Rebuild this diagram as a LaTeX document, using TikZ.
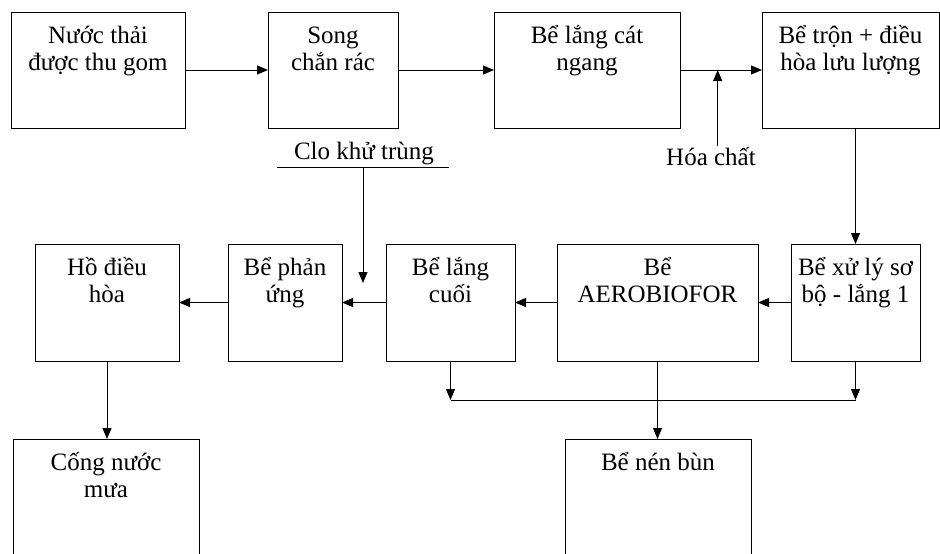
\documentclass[tikz,border=0pt]{standalone}
\usepackage{fontspec}
\setmainfont{Liberation Serif}
\usetikzlibrary{arrows.meta,positioning,calc}

\begin{document}
\begin{tikzpicture}[x=1pt, y=1pt,
  box/.style={draw, line width=1pt, inner sep=0pt, outer sep=0pt, anchor=north west},
  txt/.style={align=center, anchor=base, inner sep=0pt, font=\fontsize{25}{27}\selectfont},
  two/.style={yshift=-27pt},
  arrow/.style={-{Triangle[length=11pt,width=9pt]}, line width=1pt},
  wire/.style={line width=1pt}
]
\useasboundingbox (0,0) rectangle (940,-554);
% 上排:四个处理框,左到右
\node[box, minimum width=174pt, minimum height=116pt] (thai) at (11,-12) {};
\node[box, minimum width=130pt, minimum height=116pt] (song) at (268,-12) {};
\node[box, minimum width=186pt, minimum height=116pt] (cat) at (494,-12) {};
\node[box, minimum width=177pt, minimum height=116pt] (tron) at (762,-12) {};
\node[txt, two] (thaiT) at ($(thai.north)+(0,-31)$) {Nước thải\\được thu gom};
\node[txt, two] (songT) at ($(song.north)+(0,-31)$) {Song\\chắn rác};
\node[txt, two] (catT) at ($(cat.north)+(0,-31)$) {Bể lắng cát\\ngang};
\node[txt, two] (tronT) at ($(tron.north)+(0,-31)$) {Bể trộn + điều\\hòa lưu lượng};
% 中排:从右往左流
\node[box, minimum width=144pt, minimum height=117pt] (ho) at (35,-244) {};
\node[box, minimum width=114pt, minimum height=117pt] (phan) at (228,-244) {};
\node[box, minimum width=129pt, minimum height=117pt] (cuoi) at (386,-244) {};
\node[box, minimum width=201pt, minimum height=117pt] (aero) at (557,-244) {};
\node[box, minimum width=129pt, minimum height=117pt] (sobo) at (791,-244) {};
\node[txt, two] (hoT) at ($(ho.north)+(0,-31)$) {Hồ điều\\hòa};
\node[txt, two] (phanT) at ($(phan.north)+(0,-31)$) {Bể phản\\ứng};
\node[txt, two] (cuoiT) at ($(cuoi.north)+(0,-31)$) {Bể lắng\\cuối};
\node[txt, two] (aeroT) at ($(aero.north)+(0,-31)$) {Bể\\AEROBIOFOR};
\node[txt, two] (soboT) at ($(sobo.north)+(0,-31)$) {Bể xử lý sơ\\bộ - lắng 1};
% 下排:两个框伸出画面底边
\node[box, minimum width=186pt, minimum height=140pt] (cong) at (13,-439) {};
\node[box, minimum width=186pt, minimum height=140pt] (nen) at (565,-439) {};
\node[txt, two] (congT) at ($(cong.north)+(0,-31)$) {Cống nước\\mưa};
\node[txt] (nenT) at ($(nen.north)+(0,-31)$) {Bể nén bùn};
% 加药与消毒标注
\node[txt] (hoachat) at (711,-165) {Hóa chất};
\node[txt] (clo) at (364,-159) {Clo khử trùng};
\coordinate (cloL) at (277,-167);
\coordinate (cloR) at (449,-167);
\coordinate (cloEnd) at (363,-283);
\coordinate (hcj) at ($(cat.east)!0.46!(tron.west)$);
\coordinate (bus) at (0,-400);
% 箭头:上排向右,中排向左,竖线向下
\draw[arrow] (thai) -- (song);
\draw[arrow] (song) -- (cat);
\draw[arrow] (cat) -- (tron);
\draw[arrow] (hcj |- 0,-146) -- (hcj);
\draw[arrow] (tron.south -| sobo.north) -- (sobo.north);
\draw[arrow] (sobo) -- (aero);
\draw[arrow] (aero) -- (cuoi);
\draw[arrow] (cuoi) -- (phan);
\draw[arrow] (phan) -- (ho);
\draw[wire] (cloL) -- (cloR);
\draw[arrow] ($(cloL)!0.5!(cloR)$) -- (cloEnd);
\draw[arrow] (ho.south) -- (ho.south |- cong.north);
% 污泥:两侧汇入水平线,中间直下到压泥池
\draw[arrow] (cuoi.south) -- (cuoi.south |- bus);
\draw[arrow] (sobo.south) -- (sobo.south |- bus);
\draw[wire] (cuoi.south |- bus) -- (sobo.south |- bus);
\draw[arrow] (aero.south) -- (aero.south |- nen.north);
\end{tikzpicture}
\end{document}
